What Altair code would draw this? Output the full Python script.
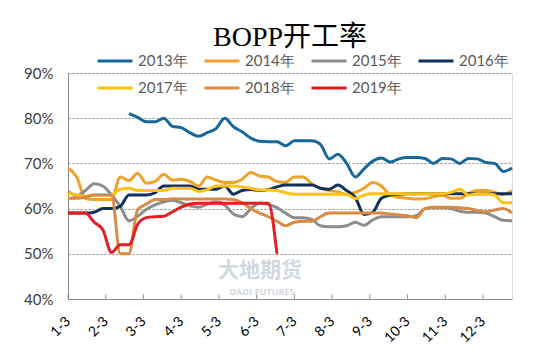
import altair as alt
import pandas as pd

weeks = list(range(52))
series_names = ["2013年", "2014年", "2015年", "2016年", "2017年", "2018年", "2019年"]
series_colors = ["#17679A", "#F0A12A", "#8C8C8C", "#10305E", "#FFC20E", "#D98B45", "#E31E24"]

y2013 = [None] * 7 + [81, 80.2, 79.2, 79.2, 80, 78.2, 77.9, 76.8, 76, 76.8, 77.7, 80, 78.1, 77, 75.6,
                      74.9, 74.8, 74.8, 73.9, 75, 75, 75, 74.2, 71, 72, 70, 67, 68.8, 70.5, 71.2, 70.3,
                      71, 71.3, 71.3, 71.1, 70, 71.1, 71, 70, 71.1, 71, 70.2, 70, 68.2, 69]
y2014 = [69, 67, 62.2, 62, 62, 62, 67, 66.2, 67.8, 65.6, 66, 67.6, 66.3, 66.5, 66, 65, 67, 66.3,
         65.8, 65.8, 66.5, 68, 67.2, 67, 66, 65.8, 67, 67, 65.5, 64.5, 64, 63.7, 63.1, 63.6, 64.5,
         65.8, 65, 63, 62.5, 62.3, 62.1, 62.2, 62.6, 62.9, 62.3, 62.3, 63.3, 64, 64, 63.6, 63.1, 64]
y2015 = [63.8, 62.8, 64, 65.5, 65, 63, 60.5, 57.3, 58.3, 59.8, 60.8, 61.5, 61.8, 61.3, 60.6, 60.3,
         61, 61.5, 60.8, 58.8, 58.2, 60, 61.2, 60.9, 60.2, 59, 58, 58, 57.6, 56.2, 56, 56, 56.2, 57,
         56.3, 57.5, 58.2, 58.2, 58.2, 58.2, 58.4, 60, 60.2, 60.2, 60, 59.4, 59.2, 59.2, 59, 58.2,
         57.4, 57.3]
y2016 = [59, 59, 59, 59.2, 60, 60, 60.5, 63, 63, 63, 63.5, 65, 65, 65, 65, 64.3, 64.3, 64.3, 65,
         63.2, 64, 64.2, 64, 64.2, 64.8, 65.2, 65.2, 65.2, 65.2, 64.5, 64.3, 65.2, 64, 62.5, 58.7,
         59.2, 62.3, 63, 63.2, 63.3, 63.3, 63.3, 63.3, 63.3, 63.3, 63.3, 63.3, 63.3, 63.3, 63.3,
         63.3, 63.3]
y2017 = [63.4, 63, 62.7, 63, 63, 63, 64.3, 64.5, 64, 64, 64, 64, 64.5, 64.5, 64.5, 63.8, 64.2, 65,
         65, 65, 64.8, 64.5, 64.1, 64.1, 64, 63.5, 63.2, 63.2, 63.2, 63.2, 63.2, 63.2, 63.2, 62.2,
         63, 63.3, 63.3, 63.3, 63.3, 63.3, 63.3, 63.3, 63.3, 63.3, 63.6, 64.3, 63, 63.3, 63.3, 63,
         61.3, 61.3]
y2018 = [62.3, 62.3, 62.5, 63, 63, 63, 50, 50, 59.8, 61, 62, 62, 62.2, 62.1, 62.1, 62.1, 62.1,
         62.1, 62.1, 62, 61.3, 60, 59, 58.2, 57.2, 56.2, 57, 57.2, 57.2, 58.2, 59, 59, 59, 59, 59,
         59, 59, 58.8, 58.6, 58.4, 58, 60, 60.3, 60.3, 60.3, 60.2, 60, 59.6, 59.3, 59.7, 60, 59]
y2019 = [59, 59, 59, 57, 55.3, 50.3, 52, 52, 56.5, 58, 58.2, 58.3, 59.3, 60.3, 61, 61.2, 61.2,
         61.2, 61.2, 61.2, 61.2, 61.2, 61.2, 61.2, 50] + [None] * 27

all_series = [y2013, y2014, y2015, y2016, y2017, y2018, y2019]

month_ticks = [round(m * 52 / 12, 3) for m in range(12)]
tick_labels = ["1-3", "2-3", "3-3", "4-3", "5-3", "6-3", "7-3", "8-3", "9-3", "10-3", "11-3", "12-3"]
y_ticks = [40, 50, 60, 70, 80, 90]

rows = []
for name, vals in zip(series_names, all_series):
    for w, v in zip(weeks, vals):
        if v is not None:
            rows.append({"week": w, "series": name, "rate": v})
df = pd.DataFrame(rows)
ticks_df = pd.DataFrame({"pos": month_ticks})

label_expr = "[" + ",".join("'" + t + "'" for t in tick_labels) + "][round(datum.value*12/52)]"

x_scale = alt.Scale(domain=[0, 51], nice=False, zero=False)
y_scale = alt.Scale(domain=[40, 90], nice=False, zero=False)

base_font = "Lato"

lines = alt.Chart(df).mark_line(strokeWidth=3, interpolate="monotone").encode(
    x=alt.X("week:Q", scale=x_scale,
            axis=alt.Axis(values=month_ticks, labelExpr=label_expr, labelAngle=-45,
                          labelAlign="right", labelBaseline="middle", ticks=False, grid=False,
                          domainColor="#8C8C8C", labelFontSize=14, labelColor="#000000",
                          labelFont=base_font, labelPadding=20, title=None, labelOverlap=False)),
    y=alt.Y("rate:Q", scale=y_scale,
            axis=alt.Axis(values=y_ticks, labelExpr="datum.value + '%'", grid=True,
                          gridDash=[2, 2], gridColor="#8A8A8A", ticks=False,
                          domainColor="#8C8C8C", labelFontSize=15, labelColor="#404040",
                          labelFont=base_font, labelPadding=15, title=None)),
    color=alt.Color("series:N", scale=alt.Scale(domain=series_names, range=series_colors),
                    legend=alt.Legend(title=None, orient="none", legendX=28, legendY=-31,
                                      direction="horizontal", columns=4, symbolType="stroke",
                                      symbolSize=1225, symbolStrokeWidth=3, labelFontSize=15,
                                      labelColor="#595959", labelFont=base_font, labelOffset=4,
                                      columnPadding=10, rowPadding=0)),
)

tick_marks = alt.Chart(ticks_df).mark_rule(color="#8C8C8C", strokeWidth=1).encode(
    x=alt.X("pos:Q", scale=x_scale),
    y=alt.datum(40, scale=y_scale),
    y2=alt.datum(41),
)

wm1 = alt.Chart(pd.DataFrame({"t": ["大地期货"]})).mark_text(
    font="Noto Sans CJK SC", fontSize=21, fontWeight="bold", color="#D3D8DF", align="center"
).encode(text="t:N", x=alt.value(192), y=alt.value(198))
wm2 = alt.Chart(pd.DataFrame({"t": ["DADI FUTURES"]})).mark_text(
    font="Noto Sans", fontSize=9, fontWeight="bold", color="#D3D8DF", align="center"
).encode(text="t:N", x=alt.value(194), y=alt.value(219))

chart = alt.layer(wm1, wm2, tick_marks, lines).properties(
    width=444, height=226,
    autosize="none",
    padding={"left": 60, "top": 65, "right": 30, "bottom": 50},
    title=alt.TitleParams("BOPP开工率", font="Liberation Serif, Noto Sans CJK SC", fontSize=28,
                          fontWeight="normal", color="#000000", anchor="middle", offset=-10),
).configure_view(stroke=None).configure(background="white")

chart.save("out.html", embed_options={"renderer": "svg", "actions": False})
